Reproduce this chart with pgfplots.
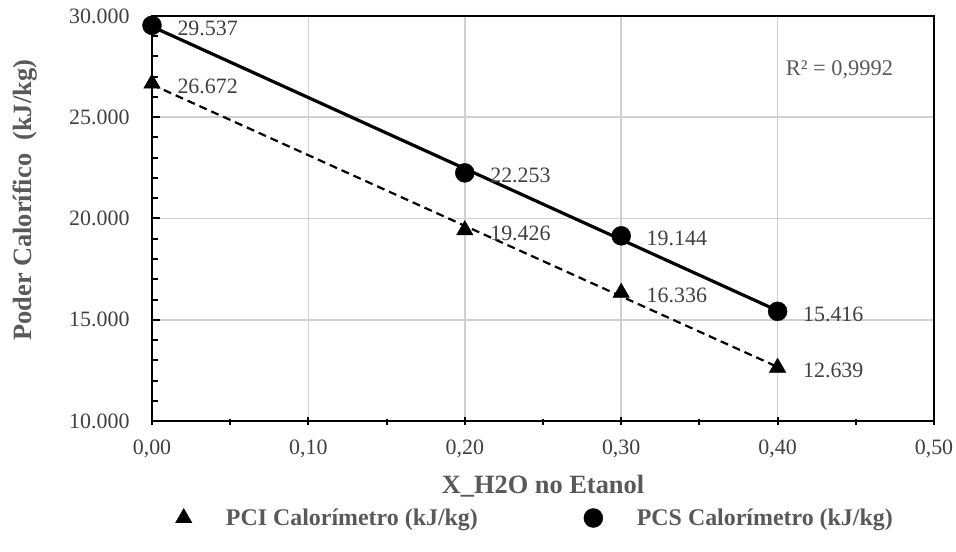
\documentclass[border=0pt]{standalone}
\usepackage{pgfplots}
\pgfplotsset{compat=1.18}
\usepackage{fontspec}
\setmainfont{Liberation Serif}
\definecolor{tickgrey}{HTML}{404040}
\definecolor{titlegrey}{HTML}{595959}
\definecolor{gridgrey}{HTML}{D0D0D0}

\begin{document}
\begin{tikzpicture}
\begin{axis}[
  scale only axis, width=782bp, height=405bp,
  xmin=0, xmax=0.5, ymin=10000, ymax=30000,
  xtick={0,0.1,0.2,0.3,0.4,0.5}, ytick={10000,15000,20000,25000,30000},
  minor x tick num=1, minor y tick num=4,
  xtick pos=bottom, ytick pos=left,
  grid=major, major grid style={gridgrey, line width=1.5bp},
  axis line style={black, line width=2.2bp},
  tick style={black, line width=2bp},
  tick align=inside,
  major tick length=8bp, minor tick length=6bp,
  xtick style={yshift=-4bp},
  /pgf/number format/assume math mode=true,
  ticklabel style={font=\fontsize{22}{26}\selectfont, text=tickgrey},
  scaled y ticks=false,
  x tick label style={/pgf/number format/fixed, /pgf/number format/fixed zerofill, /pgf/number format/precision=2, /pgf/number format/use comma, yshift=-15bp},
  y tick label style={/pgf/number format/fixed, /pgf/number format/precision=0, /pgf/number format/1000 sep={.}, xshift=-19bp},
  xlabel={X\_H2O no Etanol},
  ylabel={Poder Calorífico\ \ (kJ/kg)},
  xlabel style={at={(axis description cs:0.5,-0.1605)}, anchor=center, font=\bfseries\fontsize{26.5}{30}\selectfont, text=titlegrey},
  ylabel style={at={(axis description cs:-0.1624,0.545)}, anchor=center, font=\bfseries\fontsize{26.5}{30}\selectfont, text=titlegrey},
  legend columns=2,
  legend style={at={(axis description cs:0.026,-0.2395)}, anchor=west, draw=none, fill=none,
    font=\bfseries\fontsize{24}{28}\selectfont, text=titlegrey,
    /tikz/every odd column/.append style={column sep=32bp},
    /tikz/every even column/.append style={column sep=104bp}},
  every node near coord/.append style={anchor=west, xshift=22bp, yshift=-3bp, font=\fontsize{22}{26}\selectfont, text=tickgrey},
  clip=false,
]
\addplot[forget plot, black, line width=3.2bp] coordinates {(0,29478) (0.4,15450)};
\addplot[forget plot, black, line width=2.2bp, dash pattern=on 8bp off 5bp] coordinates {(0,26611) (0.4,12669)};
\addplot[only marks, mark=triangle*, mark size=9.5bp, black,
  nodes near coords={\pgfmathprintnumber[fixed, precision=0, 1000 sep={.}, assume math mode=true]{\pgfplotspointmeta}}]
  coordinates {(0,26672) (0.2,19426) (0.3,16336) (0.4,12639)};
\addlegendentry{PCI Calorímetro (kJ/kg)}
\addplot[only marks, mark=*, mark size=9.5bp, black,
  nodes near coords={\pgfmathprintnumber[fixed, precision=0, 1000 sep={.}, assume math mode=true]{\pgfplotspointmeta}}]
  coordinates {(0,29537) (0.2,22253) (0.3,19144) (0.4,15416)};
\addlegendentry{PCS Calorímetro (kJ/kg)}
\node[anchor=west, font=\fontsize{22.5}{26}\selectfont, text=titlegrey] at (axis cs:0.403,27333) {R² = 0,9992};
\end{axis}
\pgfresetboundingbox
\path (-152bp,-131bp) rectangle (804bp,421bp);
\end{tikzpicture}
\end{document}
